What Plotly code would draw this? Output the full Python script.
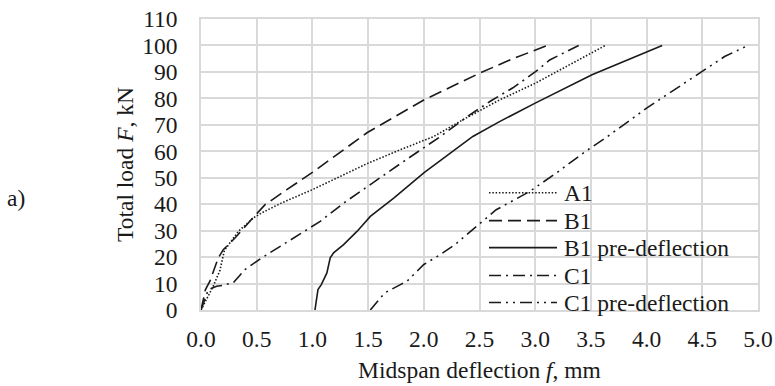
import plotly.graph_objects as go

# ---------------- data ----------------
series_names = ["A1", "B1", "B1 pre-deflection", "C1", "C1 pre-deflection"]

A1_x = [0, 0.06, 0.11, 0.17, 0.21, 0.335, 0.47, 0.545, 0.72, 1.0, 1.25, 1.5, 1.79, 2.09, 2.35, 2.68, 3.0, 3.63]
A1_F = [0, 5, 9, 15, 22.5, 29.7, 34.8, 36.7, 40.4, 45.5, 50.5, 55.5, 60.6, 65.6, 71.9, 79.4, 85.7, 100]

B1_x = [0, 0.04, 0.08, 0.12, 0.155, 0.2, 0.305, 0.47, 0.575, 0.77, 1.0, 1.49, 2.0, 2.5, 2.8, 3.11]
B1_F = [0, 7.7, 10.9, 15.3, 19.7, 22.8, 27.2, 35, 39.8, 45.5, 52, 67, 79.4, 89.5, 95, 100]

B1pre_x = [1.023, 1.05, 1.08, 1.13, 1.16, 1.19, 1.28, 1.4, 1.52, 1.73, 2.0, 2.16, 2.44, 2.68, 3.0, 3.51, 4.14]
B1pre_F = [0, 7.7, 9.6, 14, 19.7, 21.6, 24.7, 29.7, 35.4, 42.3, 51.8, 56.8, 65.6, 71.2, 78.2, 88.9, 100]

C1_x = [0, 0.066, 0.14, 0.19, 0.29, 0.395, 0.545, 0.78, 1.07, 1.28, 1.49, 1.67, 1.82, 2.15, 2.39, 2.6, 2.8, 3.0, 3.13, 3.22, 3.39]
C1_F = [0, 7.7, 9, 9.3, 10.3, 15.3, 19.7, 26, 33.5, 40.4, 46.7, 51.8, 56.2, 65.6, 73.1, 79, 84, 90, 94.5, 96.4, 100]

C1pre_x = [1.52, 1.65, 1.79, 1.85, 2.0, 2.15, 2.28, 2.44, 2.65, 2.95, 3.19, 3.46, 3.63, 4.0, 4.25, 4.48, 4.61, 4.70, 4.91]
C1pre_F = [0, 6.5, 9.6, 10.9, 17.2, 21, 24.7, 30.4, 37.9, 44.8, 51.8, 60.2, 65, 76.3, 83.2, 89.5, 93.3, 95.8, 100]

x_ticks = [0, 0.5, 1.0, 1.5, 2.0, 2.5, 3.0, 3.5, 4.0, 4.5, 5.0]
y_ticks = [0, 10, 20, 30, 40, 50, 60, 70, 80, 90, 100, 110]

# ---------------- styles ----------------
FONT = "Liberation Serif, Times New Roman, serif"
FS = 23.5
TXT = "#1a1a1a"
GRID = "#d9d9d9"
LINE_COL = "#1a1a1a"
LW = 1.6
dashes = ["1.5px,1.8px", "13px,6px", "solid", "12px,5px,2px,5px", "12px,5px,2px,5px,2px,5px"]

data_x = [A1_x, B1_x, B1pre_x, C1_x, C1pre_x]
data_y = [A1_F, B1_F, B1pre_F, C1_F, C1pre_F]

fig = go.Figure()
for name, xs, ys, d in zip(series_names, data_x, data_y, dashes):
    fig.add_trace(go.Scatter(x=xs, y=ys, mode="lines", name=name, showlegend=False,
                             line=dict(color=LINE_COL, width=LW, dash=d)))

# ---------------- custom legend (paper coords) ----------------
W, H = 775, 386
ml, mr, mt, mb = 201, 17, 19, 75.5
pw, ph = W - ml - mr, H - mt - mb

def px2paper_x(px):
    return (px - ml) / pw

def py2paper_y(py):
    return (H - mb - py) / ph

leg_x0, leg_x1, leg_tx = 489, 557, 562
leg_rows = [193, 221, 248, 276, 303]
shapes = []
annotations = []
for name, d, ry in zip(series_names, dashes, leg_rows):
    yp = py2paper_y(ry)
    shapes.append(dict(type="line", xref="paper", yref="paper",
                       x0=px2paper_x(leg_x0), x1=px2paper_x(leg_x1), y0=yp, y1=yp,
                       line=dict(color=LINE_COL, width=LW, dash=d)))
    annotations.append(dict(text=name, xref="paper", yref="paper", x=px2paper_x(leg_tx), y=yp,
                            xanchor="left", yanchor="middle", showarrow=False,
                            font=dict(family=FONT, size=FS, color=TXT)))

annotations.append(dict(text="a)", xref="paper", yref="paper", x=px2paper_x(5), y=py2paper_y(198),
                        xanchor="left", yanchor="middle", showarrow=False,
                        font=dict(family=FONT, size=FS, color=TXT)))

fig.update_layout(
    width=W, height=H,
    margin=dict(l=ml, r=mr, t=mt, b=mb, pad=0, autoexpand=False),
    paper_bgcolor="white", plot_bgcolor="white",
    font=dict(family=FONT, size=FS, color=TXT),
    shapes=shapes, annotations=annotations,
    showlegend=False,
    xaxis=dict(range=[0, 5], tickvals=x_ticks, tickformat=".1f", automargin=False,
               showgrid=True, gridcolor=GRID, gridwidth=1.5,
               showline=True, linecolor=GRID, linewidth=1.5, mirror=True,
               zeroline=False, ticks="", ticklabelstandoff=7,
               title=dict(text="Midspan deflection <i>f</i>, mm", standoff=11,
                          font=dict(family=FONT, size=FS, color=TXT))),
    yaxis=dict(range=[0, 110], tickvals=y_ticks, automargin=False,
               showgrid=True, gridcolor=GRID, gridwidth=1.5,
               showline=True, linecolor=GRID, linewidth=1.5, mirror=True,
               zeroline=False, ticks="", ticklabelstandoff=17,
               title=dict(text="Total load <i>F</i>, kN", standoff=2,
                          font=dict(family=FONT, size=FS, color=TXT))),
)

fig.write_html("out.html")
